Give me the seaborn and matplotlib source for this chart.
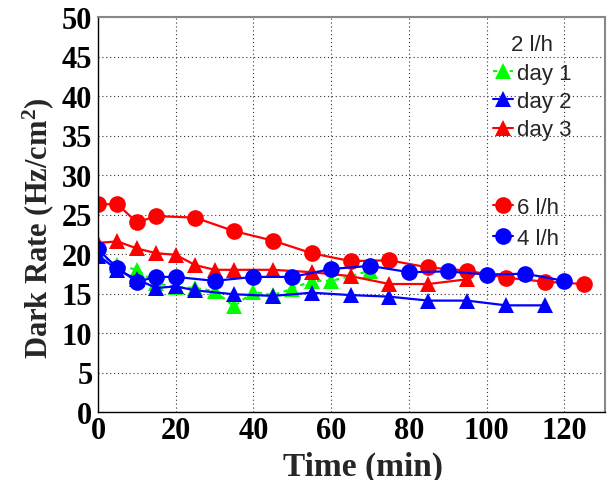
import matplotlib
matplotlib.use("Agg")
import matplotlib.pyplot as plt
import seaborn as sns
from matplotlib.lines import Line2D
from matplotlib.ticker import MultipleLocator

# ---- data ----
day1_t = [0, 5, 10, 15, 20, 25, 30, 35, 40, 45, 50, 55, 60, 65, 70]
day1_r = [20.0, 18.6, 18.0, 16.3, 15.8, 15.7, 15.3, 13.4, 15.2, 14.8, 15.6, 16.6, 16.6, 17.2, 17.9]
day2_t = [0, 5, 10, 15, 20, 25, 35, 45, 55, 65, 75, 85, 95, 105, 115]
day2_r = [19.8, 18.0, 16.8, 15.7, 15.9, 15.4, 14.9, 14.7, 15.1, 14.8, 14.6, 14.1, 14.1, 13.5, 13.5]
day3_t = [0, 5, 10, 15, 20, 25, 30, 35, 45, 55, 65, 75, 85, 95]
day3_r = [21.4, 21.6, 20.7, 20.1, 19.9, 18.6, 18.0, 18.0, 18.0, 17.7, 17.2, 16.2, 16.2, 16.8]
flow6_t = [0, 5, 10, 15, 25, 35, 45, 55, 65, 75, 85, 95, 105, 115, 125]
flow6_r = [26.3, 26.3, 24.0, 24.8, 24.6, 22.9, 21.7, 20.1, 19.1, 19.2, 18.3, 17.9, 17.0, 16.5, 16.2]
flow4_t = [0, 5, 10, 15, 20, 30, 40, 50, 60, 70, 80, 90, 100, 110, 120]
flow4_r = [20.6, 18.2, 16.5, 17.1, 17.1, 16.6, 17.1, 17.1, 18.1, 18.5, 17.7, 17.8, 17.4, 17.5, 16.6]

x_ticks = [0, 20, 40, 60, 80, 100, 120]
y_ticks = [0, 5, 10, 15, 20, 25, 30, 35, 40, 45, 50]

sns.set_theme(style="white")
plt.rcParams['font.family'] = ['Liberation Serif', 'DejaVu Serif']
plt.rcParams['font.weight'] = 'bold'
plt.rcParams['axes.labelweight'] = 'bold'
plt.rcParams['mathtext.fontset'] = 'custom'
plt.rcParams['mathtext.rm'] = 'Liberation Serif:bold'
plt.rcParams['mathtext.bf'] = 'Liberation Serif:bold'
plt.rcParams['mathtext.it'] = 'Liberation Serif:bold:italic'

GREEN, BLUE, RED = '#00ff00', '#0000ff', '#ff0000'

fig = plt.figure(figsize=(6.15, 4.81), dpi=100)
ax = fig.add_axes([98/615, 68/481, 507/615, 395/481])

series = [
    (day1_t, day1_r, GREEN, '^', 11, (0, (2, 2)), 'day 1'),
    (day2_t, day2_r, BLUE, '^', 11, '-', 'day 2'),
    (day3_t, day3_r, RED, '^', 11, '-', 'day 3'),
    (flow6_t, flow6_r, RED, 'o', 12, '-', '6 l/h'),
    (flow4_t, flow4_r, BLUE, 'o', 12, '-', '4 l/h'),
]
handles = {}
for t, r, c, m, ms, ls, lab in series:
    sns.lineplot(x=t, y=r, ax=ax, color=c, marker=m, markersize=ms,
                 markeredgewidth=0, markeredgecolor=c, linewidth=1.6,
                 linestyle=ls, legend=False, sort=False)
    handles[lab] = Line2D([], [], color=c, marker=m, markersize=ms,
                          markeredgewidth=0, linestyle=ls, linewidth=1.5)

ax.set_xlim(0, 130.5)
ax.set_ylim(0, 50)
ax.set_xticks(x_ticks)
ax.set_yticks(y_ticks)
ax.set_xticklabels([str(v) for v in x_ticks])
ax.set_yticklabels([str(v) for v in y_ticks])
ax.xaxis.set_minor_locator(MultipleLocator(5))
ax.yaxis.set_minor_locator(MultipleLocator(1))
ax.tick_params(which='both', direction='in', top=False, right=False,
               colors='black', labelsize=22, width=1)
ax.tick_params(which='major', length=11)
ax.tick_params(which='minor', length=5)
ax.tick_params(axis='y', pad=4)
ax.tick_params(axis='x', pad=3)

ax.grid(True, which='major', color='#333333', linestyle=(0, (1, 2.5)), linewidth=0.8)
ax.set_axisbelow(True)

for s in ['left', 'bottom']:
    ax.spines[s].set_color('black')
    ax.spines[s].set_linewidth(1.0)
for s in ['top', 'right']:
    ax.spines[s].set_color('#888888')
    ax.spines[s].set_linewidth(1.5)

ax.set_xlabel('Time (min)', fontsize=24)
ax.set_ylabel('Dark Rate (Hz/cm$^{2}$)', fontsize=22)
ax.xaxis.set_label_coords(0.523, -0.097)
ax.yaxis.set_label_coords(-0.082, 0.468)

lp = dict(family='Liberation Sans', size=16, weight='normal')
leg1 = ax.legend([handles['day 1'], handles['day 2'], handles['day 3']],
                 ['day 1', 'day 2', 'day 3'], title='2 l/h', prop=lp,
                 title_fontproperties=lp, frameon=False, loc='upper left',
                 bbox_to_anchor=(0.752, 0.99), handlelength=0.9,
                 handletextpad=0.2, labelspacing=0.33, borderaxespad=0.2)
ax.add_artist(leg1)
ax.legend([handles['6 l/h'], handles['4 l/h']], ['6 l/h', '4 l/h'], prop=lp,
          frameon=False, loc='upper left', bbox_to_anchor=(0.752, 0.578),
          handlelength=0.9, handletextpad=0.2, labelspacing=0.45,
          borderaxespad=0.2)

fig.savefig('out.png', dpi=100)
